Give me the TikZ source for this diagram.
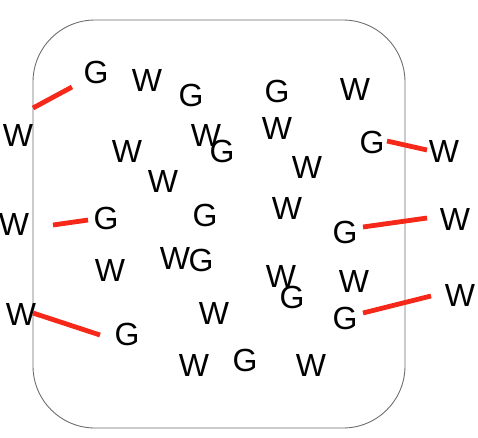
\documentclass[tikz,border=0pt]{standalone}
\usepackage{fontspec}
\setmainfont{Liberation Sans}
\usetikzlibrary{positioning}
\definecolor{linkred}{RGB}{245,40,25}
\definecolor{framegray}{RGB}{110,110,110}
\tikzset{
  frame/.style ={draw=framegray, line width=0.9pt, rounded corners=62pt},
  lt/.style    ={inner sep=0pt, font=\fontsize{32}{32}\selectfont},
  gl/.style    ={lt},
  wl/.style    ={lt},
  link/.style  ={draw=linkred, line width=4.8pt},
}

\begin{document}
\begin{tikzpicture}[x=1pt, y=-1pt]
  \useasboundingbox (0,0) rectangle (478,437);

  % ---------------- the region ----------------
  \draw[frame] (33,20) rectangle (405,428);

  % ---------------- G letters ----------------
  \node[gl] (g1)  at (96,72)   {G};
  \node[gl] (g2)  at (191,95)  {G};
  \node[gl] (g3)  at (222,151) {G};
  \node[gl] (g4)  at (277,91)  {G};
  \node[gl] (g5)  at (372,142) {G};
  \node[gl] (g6)  at (106,218) {G};
  \node[gl] (g7)  at (205,215) {G};
  \node[gl] (g8)  at (201,260) {G};
  \node[gl] (g9)  at (127,334) {G};
  \node[gl] (g10) at (292,297) {G};
  \node[gl] (g11) at (345,232) {G};
  \node[gl] (g12) at (345,318) {G};
  \node[gl] (g13) at (245,360) {G};

  % ---------------- W letters ----------------
  \node[wl] (w1)  at (18,135)  {W};
  \node[wl] (w2)  at (147,80)  {W};
  \node[wl] (w3)  at (206,135) {W};
  \node[wl] (w4)  at (127,151) {W};
  \node[wl] (w5)  at (163,181) {W};
  \node[wl] (w6)  at (355,89)  {W};
  \node[wl] (w7)  at (277,128) {W};
  \node[wl] (w8)  at (444,151) {W};
  \node[wl] (w9)  at (307,167) {W};
  \node[wl] (w10) at (287,208) {W};
  \node[wl] (w11) at (14,224)  {W};
  \node[wl] (w12) at (110,270) {W};
  \node[wl] (w13) at (175,258) {W};
  \node[wl] (w14) at (21,314)  {W};
  \node[wl] (w15) at (214,313) {W};
  \node[wl] (w16) at (194,365) {W};
  \node[wl] (w17) at (281,276) {W};
  \node[wl] (w18) at (354,281) {W};
  \node[wl] (w19) at (455,219) {W};
  \node[wl] (w20) at (460,295) {W};
  \node[wl] (w21) at (311,365) {W};

  % ---- ends of the red links ----
  \coordinate (a1) at (33,108);  \coordinate (b1) at (72,87);
  \coordinate (a2) at (53,225);  \coordinate (b2) at (88,220);
  \coordinate (a3) at (33,313);  \coordinate (b3) at (100,335);
  \coordinate (a4) at (387,141); \coordinate (b4) at (427,150);
  \coordinate (a5) at (363,227); \coordinate (b5) at (427,218);
  \coordinate (a6) at (363,313); \coordinate (b6) at (431,296);

  \foreach \i in {1,...,6}
    \draw[link] (a\i) -- (b\i);
\end{tikzpicture}
\end{document}
